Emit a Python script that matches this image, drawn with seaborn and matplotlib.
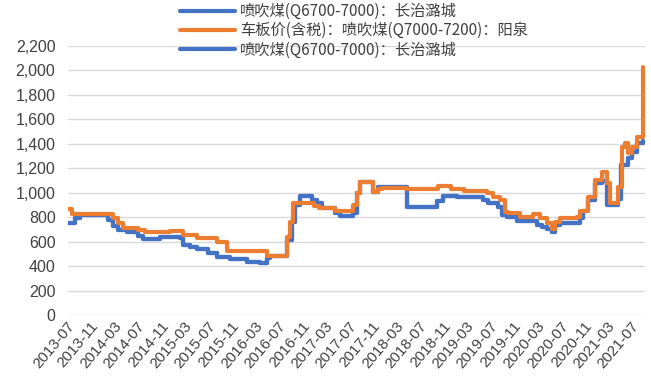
import matplotlib
matplotlib.use("Agg")
import matplotlib.pyplot as plt
import matplotlib.transforms as mtransforms
from matplotlib.ticker import FuncFormatter
from matplotlib.lines import Line2D
import pandas as pd
import seaborn as sns

# 喷吹煤(Q6700-7000)：长治潞城 — price change dates and levels (元/吨)
changzhi_dates = [
    "2013-07-01", "2013-08-06", "2013-09-01", "2014-01-24", "2014-02-19",
    "2014-03-17", "2014-05-02", "2014-06-29", "2014-07-25", "2014-10-21",
    "2015-02-01", "2015-02-17", "2015-03-25", "2015-04-30", "2015-06-26",
    "2015-08-12", "2015-10-18", "2016-01-14", "2016-03-22", "2016-04-27",
    "2016-05-10", "2016-08-08", "2016-09-01", "2016-09-20", "2016-10-15",
    "2016-12-16", "2017-01-11", "2017-02-06", "2017-04-14", "2017-05-10",
    "2017-07-16", "2017-08-05", "2017-08-22", "2017-10-28", "2017-11-23",
    "2018-04-22", "2018-09-24", "2018-10-26", "2019-01-06", "2019-05-20",
    "2019-06-15", "2019-08-05", "2019-08-25", "2019-09-20", "2019-11-15",
    "2020-02-25", "2020-03-20", "2020-04-16", "2020-05-12", "2020-05-28",
    "2020-06-23", "2020-10-04", "2020-10-20", "2020-11-15", "2020-12-21",
    "2021-01-26", "2021-02-21", "2021-04-19", "2021-05-05", "2021-06-10",
    "2021-07-01", "2021-07-27", "2021-08-27",
]
changzhi_values = [
    755, 790, 815, 777, 728,
    695, 681, 646, 624, 638,
    630, 573, 553, 540, 505,
    477, 455, 436, 423, 466,
    485, 614, 763, 900, 973,
    941, 914, 873, 832, 810,
    832, 1000, 1091, 1009, 1044,
    886, 930, 973, 968, 941,
    914, 886, 818, 805, 769,
    736, 717, 701, 682, 739,
    750, 791, 850, 941, 1077,
    1095, 900, 950, 1227, 1282,
    1336, 1404, 1420,
]

# 车板价(含税)：喷吹煤(Q7000-7200)：阳泉
yangquan_dates = [
    "2013-07-01", "2013-07-22", "2014-02-19", "2014-03-17", "2014-04-12",
    "2014-06-29", "2014-08-04", "2014-12-10", "2015-02-17", "2015-04-30",
    "2015-08-12", "2015-10-03", "2016-04-25", "2016-08-08", "2016-08-25",
    "2016-09-09", "2016-12-26", "2017-01-20", "2017-04-14", "2017-07-16",
    "2017-08-05", "2017-08-22", "2017-10-28", "2017-11-23", "2017-12-15",
    "2018-04-22", "2018-09-28", "2018-12-05", "2019-02-10", "2019-06-10",
    "2019-07-12", "2019-08-17", "2019-09-12", "2019-09-27", "2019-11-28",
    "2020-02-04", "2020-03-11", "2020-04-16", "2020-05-12", "2020-05-28",
    "2020-06-23", "2020-09-19", "2020-10-04", "2020-11-15", "2020-12-21",
    "2021-01-26", "2021-02-21", "2021-03-09", "2021-04-19", "2021-05-10",
    "2021-05-25", "2021-06-10", "2021-07-01", "2021-07-27", "2021-08-27",
]
yangquan_values = [
    870, 830, 790, 750, 715,
    695, 680, 685, 655, 628,
    600, 520, 485, 640, 760,
    914, 892, 873, 850, 900,
    1000, 1091, 1005, 1027, 1036,
    1030, 1055, 1027, 1018, 995,
    968, 941, 845, 837, 805,
    826, 791, 750, 700, 764,
    791, 800, 850, 968, 1104,
    1172, 1077, 914, 1050, 1377,
    1404, 1322, 1377, 1459, 2030,
]

tick_labels = [
    "2013-07", "2013-11", "2014-03", "2014-07", "2014-11", "2015-03", "2015-07",
    "2015-11", "2016-03", "2016-07", "2016-11", "2017-03", "2017-07", "2017-11",
    "2018-03", "2018-07", "2018-11", "2019-03", "2019-07", "2019-11", "2020-03",
    "2020-07", "2020-11", "2021-03", "2021-07",
]

legend_labels = [
    "喷吹煤(Q6700-7000)：长治潞城",
    "车板价(含税)：喷吹煤(Q7000-7200)：阳泉",
    "喷吹煤(Q6700-7000)：长治潞城",
]

blue = "#4472C4"
orange = "#ED7D31"

sns.set_theme(style="white")
plt.rcParams["font.family"] = ["Liberation Sans", "DejaVu Sans"]

changzhi = pd.DataFrame({"date": pd.to_datetime(changzhi_dates), "price": changzhi_values})
yangquan = pd.DataFrame({"date": pd.to_datetime(yangquan_dates), "price": yangquan_values})

fig = plt.figure(figsize=(6.51, 3.90), dpi=100)
ax = fig.add_axes([68 / 651, 75 / 390, 577 / 651, 269 / 390])

lw = 3.0
# the third legend series repeats the 长治潞城 prices; it sits underneath
sns.lineplot(data=changzhi, x="date", y="price", ax=ax, color=blue, lw=lw,
             drawstyle="steps-post", zorder=2)
sns.lineplot(data=changzhi, x="date", y="price", ax=ax, color=blue, lw=lw,
             drawstyle="steps-post", zorder=3)
sns.lineplot(data=yangquan, x="date", y="price", ax=ax, color=orange, lw=lw,
             drawstyle="steps-post", zorder=4)

ax.set_ylim(0, 2200)
ax.set_yticks(range(0, 2201, 200))
ax.yaxis.set_major_formatter(FuncFormatter(lambda v, _: f"{int(v):,}"))
ax.grid(axis="y", color="#D9D9D9", lw=1.0)
ax.grid(axis="x", visible=False)

tick_pos = pd.to_datetime([t + "-01" for t in tick_labels])
ax.set_xlim(pd.Timestamp("2013-07-01"), pd.Timestamp("2021-09-06"))
ax.set_xticks(tick_pos)
ax.set_xticklabels(tick_labels, rotation=50, ha="right", va="center",
                   rotation_mode="anchor")
ax.tick_params(axis="x", length=0, pad=6, labelsize=11, colors="#404040")
ax.tick_params(axis="y", length=0, pad=9, labelsize=11.5, colors="#404040")
shift = mtransforms.ScaledTranslation(4 / 100, 0, fig.dpi_scale_trans)
for lab in ax.get_xticklabels():
    lab.set_transform(lab.get_transform() + shift)
ax.set_xlabel("")
ax.set_ylabel("")
for s in ax.spines.values():
    s.set_visible(False)

handles = [Line2D([], [], color=blue, lw=lw),
           Line2D([], [], color=orange, lw=lw),
           Line2D([], [], color=blue, lw=lw)]
leg = fig.legend(handles, legend_labels, loc="upper left",
                 bbox_to_anchor=(180 / 651, 1 - 3 / 390), frameon=False,
                 borderpad=0, borderaxespad=0, handlelength=3.6, handletextpad=0.3,
                 labelspacing=0.15,
                 prop={"family": ["Noto Sans CJK SC", "DejaVu Sans"], "size": 11})
for t in leg.get_texts():
    t.set_color("#404040")

fig.savefig("out.png", dpi=100)
